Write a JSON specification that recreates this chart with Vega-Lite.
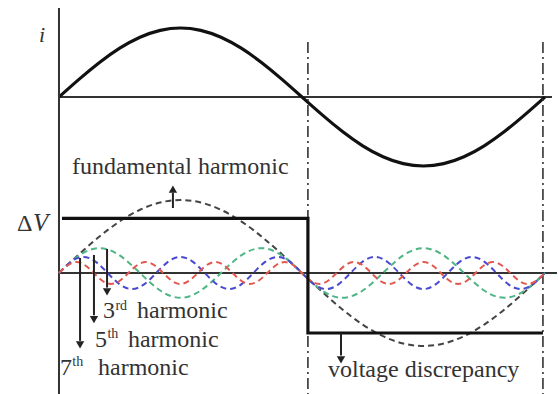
{
  "$schema": "https://vega.github.io/schema/vega-lite/v6.json",
  "width": 559,
  "height": 394,
  "autosize": "none",
  "padding": 0,
  "background": "white",
  "config": {"view": {"stroke": null}},
  "datasets": {
    "fund": [
      {"t":0,"s":0},{"t":15,"s":0.2588},{"t":30,"s":0.5},{"t":45,"s":0.7071},{"t":60,"s":0.866},{"t":75,"s":0.9659},{"t":90,"s":1},{"t":105,"s":0.9659},{"t":120,"s":0.866},{"t":135,"s":0.7071},{"t":150,"s":0.5},{"t":165,"s":0.2588},{"t":180,"s":0},{"t":195,"s":-0.2588},{"t":210,"s":-0.5},{"t":225,"s":-0.7071},{"t":240,"s":-0.866},{"t":255,"s":-0.9659},{"t":270,"s":-1},{"t":285,"s":-0.9659},{"t":300,"s":-0.866},{"t":315,"s":-0.7071},{"t":330,"s":-0.5},{"t":345,"s":-0.2588},{"t":360,"s":0}
    ],
    "curr_base": [{"x":0,"x2":365.2,"y":0,"y2":0}],
    "curr_label": [{"x":-12.6,"y":0.8,"text":"i"}],
    "harm": [
      {"h":"3rd","t":0,"v":0},{"h":"3rd","t":15,"v":0.2404},{"h":"3rd","t":30,"v":0.34},{"h":"3rd","t":45,"v":0.2404},{"h":"3rd","t":60,"v":0},{"h":"3rd","t":75,"v":-0.2404},{"h":"3rd","t":90,"v":-0.34},{"h":"3rd","t":105,"v":-0.2404},
      {"h":"3rd","t":120,"v":0},{"h":"3rd","t":135,"v":0.2404},{"h":"3rd","t":150,"v":0.34},{"h":"3rd","t":165,"v":0.2404},{"h":"3rd","t":180,"v":0},{"h":"3rd","t":195,"v":-0.2404},{"h":"3rd","t":210,"v":-0.34},{"h":"3rd","t":225,"v":-0.2404},
      {"h":"3rd","t":240,"v":0},{"h":"3rd","t":255,"v":0.2404},{"h":"3rd","t":270,"v":0.34},{"h":"3rd","t":285,"v":0.2404},{"h":"3rd","t":300,"v":0},{"h":"3rd","t":315,"v":-0.2404},{"h":"3rd","t":330,"v":-0.34},{"h":"3rd","t":345,"v":-0.2404},{"h":"3rd","t":360,"v":0},
      {"h":"5th","t":0,"v":0},{"h":"5th","t":9,"v":0.156},{"h":"5th","t":18,"v":0.22},{"h":"5th","t":27,"v":0.156},{"h":"5th","t":36,"v":0},{"h":"5th","t":45,"v":-0.156},{"h":"5th","t":54,"v":-0.22},{"h":"5th","t":63,"v":-0.156},
      {"h":"5th","t":72,"v":0},{"h":"5th","t":81,"v":0.156},{"h":"5th","t":90,"v":0.22},{"h":"5th","t":99,"v":0.156},{"h":"5th","t":108,"v":0},{"h":"5th","t":117,"v":-0.156},{"h":"5th","t":126,"v":-0.22},{"h":"5th","t":135,"v":-0.156},
      {"h":"5th","t":144,"v":0},{"h":"5th","t":153,"v":0.156},{"h":"5th","t":162,"v":0.22},{"h":"5th","t":171,"v":0.156},{"h":"5th","t":180,"v":0},{"h":"5th","t":189,"v":-0.156},{"h":"5th","t":198,"v":-0.22},{"h":"5th","t":207,"v":-0.156},
      {"h":"5th","t":216,"v":0},{"h":"5th","t":225,"v":0.156},{"h":"5th","t":234,"v":0.22},{"h":"5th","t":243,"v":0.156},{"h":"5th","t":252,"v":0},{"h":"5th","t":261,"v":-0.156},{"h":"5th","t":270,"v":-0.22},{"h":"5th","t":279,"v":-0.156},
      {"h":"5th","t":288,"v":0},{"h":"5th","t":297,"v":0.156},{"h":"5th","t":306,"v":0.22},{"h":"5th","t":315,"v":0.156},{"h":"5th","t":324,"v":0},{"h":"5th","t":333,"v":-0.156},{"h":"5th","t":342,"v":-0.22},{"h":"5th","t":351,"v":-0.156},{"h":"5th","t":360,"v":0},
      {"h":"7th","t":0,"v":0},{"h":"7th","t":6.43,"v":0.106},{"h":"7th","t":12.86,"v":0.15},{"h":"7th","t":19.29,"v":0.106},{"h":"7th","t":25.71,"v":0},{"h":"7th","t":32.14,"v":-0.106},{"h":"7th","t":38.57,"v":-0.15},{"h":"7th","t":45,"v":-0.106},
      {"h":"7th","t":51.43,"v":0},{"h":"7th","t":57.86,"v":0.106},{"h":"7th","t":64.29,"v":0.15},{"h":"7th","t":70.71,"v":0.106},{"h":"7th","t":77.14,"v":0},{"h":"7th","t":83.57,"v":-0.106},{"h":"7th","t":90,"v":-0.15},{"h":"7th","t":96.43,"v":-0.106},
      {"h":"7th","t":102.86,"v":0},{"h":"7th","t":109.29,"v":0.106},{"h":"7th","t":115.71,"v":0.15},{"h":"7th","t":122.14,"v":0.106},{"h":"7th","t":128.57,"v":0},{"h":"7th","t":135,"v":-0.106},{"h":"7th","t":141.43,"v":-0.15},{"h":"7th","t":147.86,"v":-0.106},
      {"h":"7th","t":154.29,"v":0},{"h":"7th","t":160.71,"v":0.106},{"h":"7th","t":167.14,"v":0.15},{"h":"7th","t":173.57,"v":0.106},{"h":"7th","t":180,"v":0},{"h":"7th","t":186.43,"v":-0.106},{"h":"7th","t":192.86,"v":-0.15},{"h":"7th","t":199.29,"v":-0.106},
      {"h":"7th","t":205.71,"v":0},{"h":"7th","t":212.14,"v":0.106},{"h":"7th","t":218.57,"v":0.15},{"h":"7th","t":225,"v":0.106},{"h":"7th","t":231.43,"v":0},{"h":"7th","t":237.86,"v":-0.106},{"h":"7th","t":244.29,"v":-0.15},{"h":"7th","t":250.71,"v":-0.106},
      {"h":"7th","t":257.14,"v":0},{"h":"7th","t":263.57,"v":0.106},{"h":"7th","t":270,"v":0.15},{"h":"7th","t":276.43,"v":0.106},{"h":"7th","t":282.86,"v":0},{"h":"7th","t":289.29,"v":-0.106},{"h":"7th","t":295.71,"v":-0.15},{"h":"7th","t":302.14,"v":-0.106},
      {"h":"7th","t":308.57,"v":0},{"h":"7th","t":315,"v":0.106},{"h":"7th","t":321.43,"v":0.15},{"h":"7th","t":327.86,"v":0.106},{"h":"7th","t":334.29,"v":0},{"h":"7th","t":340.71,"v":-0.106},{"h":"7th","t":347.14,"v":-0.15},{"h":"7th","t":353.57,"v":-0.106},{"h":"7th","t":360,"v":0}
    ],
    "square": [
      {"k":0,"t":2.2,"v":0.747},{"k":1,"t":184.4,"v":0.747},{"k":2,"t":184.4,"v":-0.822},{"k":3,"t":358.5,"v":-0.822}
    ],
    "solid_rules": [
      {"x":0,"x2":0,"y":3.63,"y2":-1.658},
      {"x":0,"x2":368.9,"y":0,"y2":0}
    ],
    "dashdot": [
      {"x":184.4,"x2":184.4,"y":3.164,"y2":-1.658},
      {"x":358.5,"x2":358.5,"y":3.164,"y2":-1.658}
    ],
    "arrows": [
      {"x":84.4,"x2":84.4,"y":0.89,"y2":1.1},
      {"x":208.9,"x2":208.9,"y":-0.822,"y2":-1.13},
      {"x":35.6,"x2":35.6,"y":0.329,"y2":-0.2},
      {"x":25.9,"x2":25.9,"y":0.247,"y2":-0.58},
      {"x":15.6,"x2":15.6,"y":0.205,"y2":-0.93}
    ],
    "heads": [
      {"x":84.4,"y":1.15,"dir":"up"},
      {"x":208.9,"y":-1.19,"dir":"down"},
      {"x":35.6,"y":-0.26,"dir":"down"},
      {"x":25.9,"y":-0.64,"dir":"down"},
      {"x":15.6,"y":-0.985,"dir":"down"}
    ],
    "labels": [
      {"x":9.6,"y":1.356,"text":"fundamental harmonic"},
      {"x":32.6,"y":-0.616,"text":"3"},
      {"x":57.8,"y":-0.616,"text":"harmonic"},
      {"x":26.7,"y":-1.014,"text":"5"},
      {"x":51.1,"y":-1.014,"text":"harmonic"},
      {"x":0.7,"y":-1.397,"text":"7"},
      {"x":28.9,"y":-1.397,"text":"harmonic"},
      {"x":199.3,"y":-1.425,"text":"voltage discrepancy"},
      {"x":-31.1,"y":0.575,"text":"Δ"}
    ],
    "sups": [
      {"x":41.8,"y":-0.507,"text":"rd"},
      {"x":35.9,"y":-0.89,"text":"th"},
      {"x":9.9,"y":-1.274,"text":"th"}
    ],
    "italic": [
      {"x":-19.3,"y":0.575,"text":"V"}
    ]
  },
  "layer": [
    {
      "layer": [
        {
          "data": {"name": "curr_base"},
          "mark": {"type": "rule", "color": "#333", "strokeWidth": 2},
          "encoding": {
            "x": {"field": "x", "type": "quantitative", "scale": {"domain": [-43.7, 370.4]}, "axis": null},
            "x2": {"field": "x2"},
            "y": {"field": "y", "type": "quantitative", "scale": {"domain": [-4.304, 1.406]}, "axis": null},
            "y2": {"field": "y2"}
          }
        },
        {
          "data": {"name": "fund"},
          "mark": {"type": "line", "color": "#111", "strokeWidth": 3.2, "interpolate": "natural"},
          "encoding": {
            "x": {"field": "t", "type": "quantitative", "scale": {"domain": [-43.7, 370.4]}, "axis": null},
            "y": {"field": "s", "type": "quantitative", "scale": {"domain": [-4.304, 1.406]}, "axis": null}
          }
        },
        {
          "data": {"name": "curr_label"},
          "mark": {"type": "text", "font": "Liberation Serif", "fontSize": 22, "fontStyle": "italic", "color": "#333", "align": "center", "baseline": "alphabetic"},
          "encoding": {
            "x": {"field": "x", "type": "quantitative", "scale": {"domain": [-43.7, 370.4]}, "axis": null},
            "y": {"field": "y", "type": "quantitative", "scale": {"domain": [-4.304, 1.406]}, "axis": null},
            "text": {"field": "text"}
          }
        }
      ]
    },
    {
      "layer": [
        {
          "data": {"name": "solid_rules"},
          "mark": {"type": "rule", "color": "#333", "strokeWidth": 2},
          "encoding": {
            "x": {"field": "x", "type": "quantitative", "scale": {"domain": [-43.7, 370.4]}, "axis": null},
            "x2": {"field": "x2"},
            "y": {"field": "y", "type": "quantitative", "scale": {"domain": [-1.658, 3.74]}, "axis": null},
            "y2": {"field": "y2"}
          }
        },
        {
          "data": {"name": "dashdot"},
          "mark": {"type": "rule", "color": "#333", "strokeWidth": 1.6, "strokeDash": [11, 4, 2, 4]},
          "encoding": {
            "x": {"field": "x", "type": "quantitative", "scale": {"domain": [-43.7, 370.4]}, "axis": null},
            "x2": {"field": "x2"},
            "y": {"field": "y", "type": "quantitative", "scale": {"domain": [-1.658, 3.74]}, "axis": null},
            "y2": {"field": "y2"}
          }
        },
        {
          "data": {"name": "fund"},
          "mark": {"type": "line", "color": "#444", "strokeWidth": 2, "strokeDash": [6, 4], "interpolate": "natural"},
          "encoding": {
            "x": {"field": "t", "type": "quantitative", "scale": {"domain": [-43.7, 370.4]}, "axis": null},
            "y": {"field": "s", "type": "quantitative", "scale": {"domain": [-1.658, 3.74]}, "axis": null}
          }
        },
        {
          "data": {"name": "harm"},
          "mark": {"type": "line", "strokeWidth": 2, "strokeDash": [6, 4], "interpolate": "natural"},
          "encoding": {
            "x": {"field": "t", "type": "quantitative", "scale": {"domain": [-43.7, 370.4]}, "axis": null},
            "y": {"field": "v", "type": "quantitative", "scale": {"domain": [-1.658, 3.74]}, "axis": null},
            "color": {"field": "h", "type": "nominal", "scale": {"domain": ["3rd", "5th", "7th"], "range": ["#4fb585", "#4a4ad0", "#e2584e"]}, "legend": null}
          }
        },
        {
          "data": {"name": "square"},
          "mark": {"type": "line", "color": "#111", "strokeWidth": 3.2},
          "encoding": {
            "x": {"field": "t", "type": "quantitative", "scale": {"domain": [-43.7, 370.4]}, "axis": null},
            "y": {"field": "v", "type": "quantitative", "scale": {"domain": [-1.658, 3.74]}, "axis": null},
            "order": {"field": "k", "type": "quantitative"}
          }
        },
        {
          "data": {"name": "arrows"},
          "mark": {"type": "rule", "color": "#222", "strokeWidth": 2},
          "encoding": {
            "x": {"field": "x", "type": "quantitative", "scale": {"domain": [-43.7, 370.4]}, "axis": null},
            "x2": {"field": "x2"},
            "y": {"field": "y", "type": "quantitative", "scale": {"domain": [-1.658, 3.74]}, "axis": null},
            "y2": {"field": "y2"}
          }
        },
        {
          "data": {"name": "heads"},
          "mark": {"type": "point", "filled": true, "color": "#222", "size": 70, "opacity": 1},
          "encoding": {
            "x": {"field": "x", "type": "quantitative", "scale": {"domain": [-43.7, 370.4]}, "axis": null},
            "y": {"field": "y", "type": "quantitative", "scale": {"domain": [-1.658, 3.74]}, "axis": null},
            "shape": {"field": "dir", "type": "nominal", "scale": {"domain": ["up", "down"], "range": ["triangle-up", "triangle-down"]}, "legend": null}
          }
        },
        {
          "data": {"name": "labels"},
          "mark": {"type": "text", "font": "Liberation Serif", "fontSize": 24, "color": "#333", "align": "left", "baseline": "alphabetic"},
          "encoding": {
            "x": {"field": "x", "type": "quantitative", "scale": {"domain": [-43.7, 370.4]}, "axis": null},
            "y": {"field": "y", "type": "quantitative", "scale": {"domain": [-1.658, 3.74]}, "axis": null},
            "text": {"field": "text"}
          }
        },
        {
          "data": {"name": "sups"},
          "mark": {"type": "text", "font": "Liberation Serif", "fontSize": 14, "color": "#333", "align": "left", "baseline": "alphabetic"},
          "encoding": {
            "x": {"field": "x", "type": "quantitative", "scale": {"domain": [-43.7, 370.4]}, "axis": null},
            "y": {"field": "y", "type": "quantitative", "scale": {"domain": [-1.658, 3.74]}, "axis": null},
            "text": {"field": "text"}
          }
        },
        {
          "data": {"name": "italic"},
          "mark": {"type": "text", "font": "Liberation Serif", "fontSize": 25, "fontStyle": "italic", "color": "#333", "align": "left", "baseline": "alphabetic"},
          "encoding": {
            "x": {"field": "x", "type": "quantitative", "scale": {"domain": [-43.7, 370.4]}, "axis": null},
            "y": {"field": "y", "type": "quantitative", "scale": {"domain": [-1.658, 3.74]}, "axis": null},
            "text": {"field": "text"}
          }
        }
      ]
    }
  ],
  "resolve": {"scale": {"y": "independent"}}
}
